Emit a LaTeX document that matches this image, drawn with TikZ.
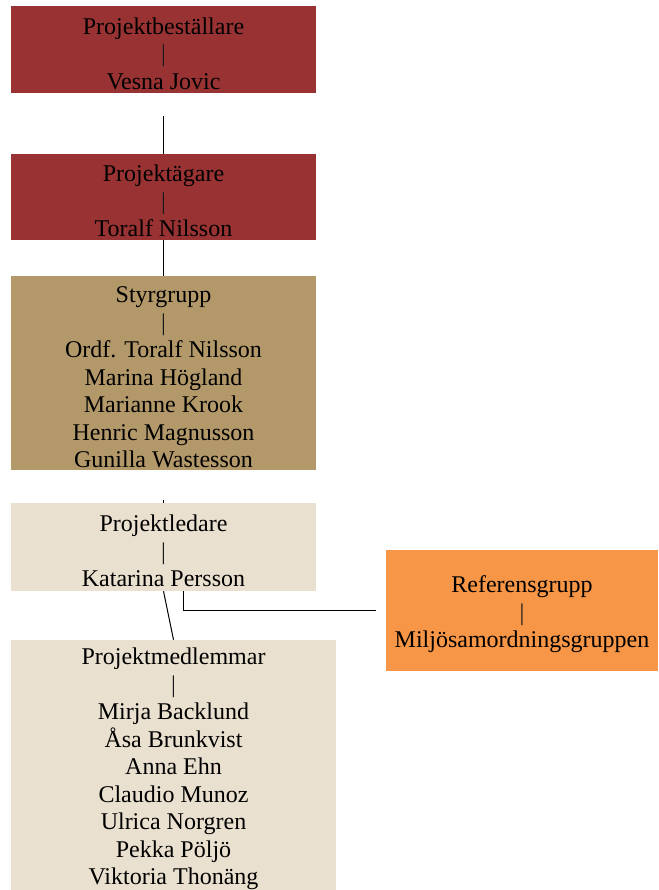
\documentclass[tikz,border=0pt]{standalone}
\usepackage{fontspec}
\setmainfont{Liberation Serif}
\usetikzlibrary{positioning}

\definecolor{ownerred}{HTML}{993333}
\definecolor{steertan}{HTML}{B3996A}
\definecolor{leadcream}{HTML}{EAE0CF}
\definecolor{reforange}{HTML}{F79646}
\definecolor{bargray}{gray}{0.1}
\newcommand{\orgbar}{\textcolor{bargray}{|}}
\newcommand{\orgtop}{\rule{0pt}{25pt}}

\begin{document}
\begin{tikzpicture}[x=1pt, y=-1pt,
    orgbox/.style={inner sep=0pt, align=center, font=\fontsize{24}{27.5}\selectfont},
    link/.style={line width=1pt}]
    \useasboundingbox (0,0) rectangle (658,890);

    % Owner boxes
    \node[orgbox, fill=ownerred, minimum width=305, minimum height=87] (orderer) at (163.5,49.5)
        {\orgtop Projektbeställare\\\orgbar\\Vesna Jovic};
    \node[orgbox, fill=ownerred, minimum width=305, minimum height=86] (owner) at (163.5,197)
        {\orgtop Projektägare\\\orgbar\\Toralf Nilsson};

    % Steering group
    \node[orgbox, fill=steertan, minimum width=305, minimum height=194] (steer) at (163.5,373)
        {\orgtop Styrgrupp\\\orgbar\\Ordf. Toralf Nilsson\\Marina Högland\\Marianne Krook\\Henric Magnusson\\Gunilla Wastesson};

    % Project lead and members
    \node[orgbox, fill=leadcream, minimum width=305, minimum height=88] (lead) at (163.5,547)
        {\orgtop Projektledare\\\orgbar\\Katarina Persson};
    \node[orgbox, fill=leadcream, minimum width=325, minimum height=250] (members) at (173.5,765)
        {\orgtop Projektmedlemmar\\\orgbar\\Mirja Backlund\\Åsa Brunkvist\\Anna Ehn\\Claudio Munoz\\Ulrica Norgren\\Pekka Pöljö\\Viktoria Thonäng};

    % Reference group
    \node[orgbox, fill=reforange, minimum width=272, minimum height=121] (refgroup) at (522,610.5)
        {\orgtop Referensgrupp\\\orgbar\\Miljösamordningsgruppen};

    % Lines
    \coordinate (gaptop) at (163.5,116);
    \coordinate (tick) at (163.5,500);
    \draw[link] (gaptop) -- (owner.north);
    \draw[link] (owner.south) -- (steer.north);
    \draw[link] (tick) -- (lead.north);
    \draw[link] (lead.south) -- (members.north);
    \draw[line width=1.5pt] ([xshift=20]lead.south) |- ([xshift=-10]refgroup.west);
\end{tikzpicture}
\end{document}
